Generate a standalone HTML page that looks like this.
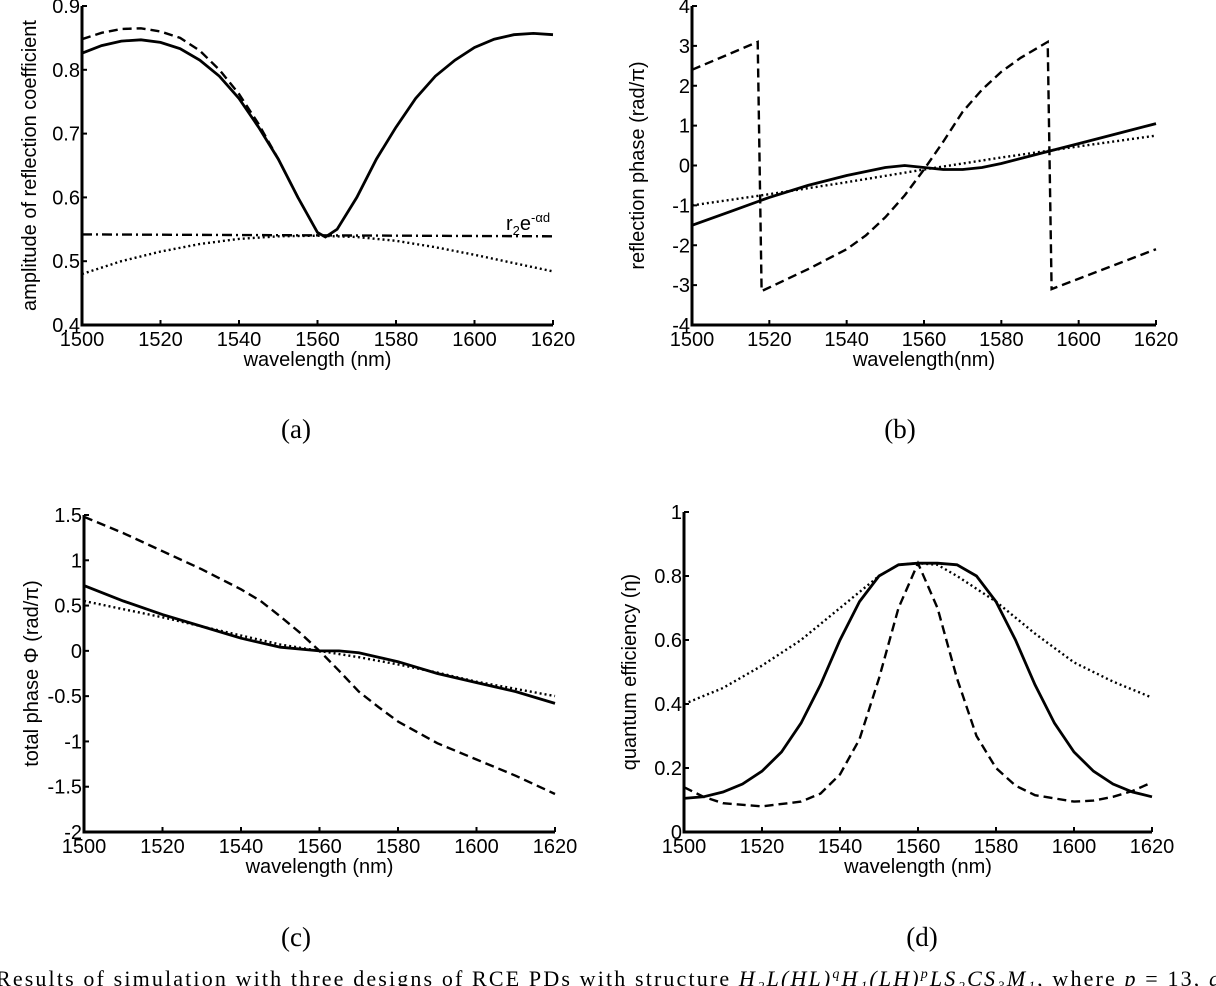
<!DOCTYPE html>
<html><head><meta charset="utf-8"><style>
body{margin:0;background:#fff;width:1216px;height:986px;overflow:hidden;position:relative}
svg{position:absolute;left:0;top:0}
text{font-family:"Liberation Sans",sans-serif;fill:#000}
.cap{font-family:"Liberation Serif",serif}
</style></head><body>
<svg id="chart" width="1216" height="986">
<text class="cap" x="296" y="438" font-size="27" text-anchor="middle">(a)</text>
<text class="cap" x="900" y="438" font-size="27" text-anchor="middle">(b)</text>
<text class="cap" x="296" y="946" font-size="27" text-anchor="middle">(c)</text>
<text class="cap" x="922" y="946" font-size="27" text-anchor="middle">(d)</text>
<text class="cap" x="-4" y="986" font-size="22" textLength="1224" lengthAdjust="spacing">Results of simulation with three designs of RCE PDs with structure <tspan font-style="italic">H₂L(HL)<tspan dy="-8" font-size="14">q</tspan><tspan dy="8">H₁(LH)</tspan><tspan dy="-8" font-size="14">p</tspan><tspan dy="8">LS₂CS₃M₁</tspan></tspan>, where <tspan font-style="italic">p</tspan> = 13, <tspan font-style="italic">q</tspan></text>
</svg>
<script>
const xTicks=[1500,1520,1540,1560,1580,1600,1620];
// Panel a
const aX=[1500,1505,1510,1515,1520,1525,1530,1535,1540,1545,1550,1555,1560,1562,1565,1570,1575,1580,1585,1590,1595,1600,1605,1610,1615,1620];
const aSolid=[0.826,0.838,0.845,0.847,0.843,0.833,0.815,0.79,0.755,0.71,0.66,0.6,0.545,0.538,0.55,0.6,0.66,0.71,0.755,0.79,0.815,0.835,0.848,0.855,0.857,0.855];
const aDashX=[1500,1505,1510,1515,1520,1525,1530,1535,1540,1545,1550,1555,1560,1562];
const aDash=[0.848,0.858,0.864,0.865,0.86,0.85,0.83,0.8,0.762,0.715,0.66,0.6,0.545,0.538];
const aDotX=[1500,1510,1520,1530,1540,1550,1560,1570,1580,1590,1600,1610,1620];
const aDot=[0.48,0.5,0.515,0.527,0.535,0.539,0.54,0.538,0.532,0.522,0.51,0.497,0.484];
const aDDX=[1500,1620];
const aDD=[0.542,0.539];
const aYT=[0.4,0.5,0.6,0.7,0.8,0.9];
const aYL=["0.4","0.5","0.6","0.7","0.8","0.9"];
// Panel b
const bSolX=[1500,1510,1520,1530,1540,1550,1555,1560,1565,1570,1575,1580,1590,1600,1610,1620];
const bSol=[-1.5,-1.15,-0.8,-0.5,-0.25,-0.05,0,-0.05,-0.1,-0.1,-0.05,0.05,0.3,0.55,0.8,1.05];
const bDotX=[1500,1520,1540,1560,1580,1600,1620];
const bDot=[-1.0,-0.72,-0.42,-0.1,0.2,0.48,0.75];
const bDashX=[1500,1517,1518,1530,1540,1545,1550,1555,1560,1565,1570,1575,1580,1585,1592,1593,1620];
const bDash=[2.4,3.1,-3.15,-2.6,-2.1,-1.75,-1.3,-0.75,-0.1,0.6,1.35,1.9,2.35,2.7,3.1,-3.1,-2.1];
const bYT=[-4,-3,-2,-1,0,1,2,3,4];
const bYL=["-4","-3","-2","-1","0","1","2","3","4"];
// Panel c
const cX=[1500,1510,1520,1530,1540,1545,1550,1555,1560,1565,1570,1575,1580,1590,1600,1610,1620];
const cDash=[1.48,1.3,1.1,0.9,0.68,0.55,0.38,0.2,0.0,-0.22,-0.45,-0.62,-0.78,-1.02,-1.2,-1.38,-1.58];
const cSolX=[1500,1510,1520,1530,1540,1550,1560,1565,1570,1580,1590,1600,1610,1620];
const cSol=[0.72,0.55,0.4,0.27,0.14,0.04,0,0,-0.02,-0.12,-0.25,-0.35,-0.45,-0.58];
const cDotX=[1500,1510,1520,1530,1540,1550,1560,1570,1580,1590,1600,1610,1620];
const cDot=[0.55,0.46,0.37,0.27,0.17,0.07,0,-0.07,-0.15,-0.24,-0.34,-0.42,-0.5];
const cYT=[-2,-1.5,-1,-0.5,0,0.5,1,1.5];
const cYL=["-2","-1.5","-1","-0.5","0","0.5","1","1.5"];
// Panel d
const dX=[1500,1505,1510,1515,1520,1525,1530,1535,1540,1545,1550,1555,1560,1565,1570,1575,1580,1585,1590,1595,1600,1605,1610,1615,1620];
const dSol=[0.105,0.11,0.125,0.15,0.19,0.25,0.34,0.46,0.6,0.72,0.8,0.835,0.84,0.84,0.835,0.8,0.72,0.6,0.46,0.34,0.25,0.19,0.15,0.125,0.11];
const dDashX=[1500,1505,1510,1520,1530,1535,1540,1545,1550,1555,1560,1565,1570,1575,1580,1585,1590,1600,1605,1610,1615,1620];
const dDash=[0.14,0.11,0.09,0.08,0.095,0.12,0.18,0.29,0.48,0.7,0.84,0.7,0.48,0.3,0.2,0.145,0.115,0.095,0.098,0.11,0.128,0.155];
const dDotX=[1500,1510,1520,1530,1540,1550,1555,1560,1565,1570,1580,1590,1600,1610,1620];
const dDot=[0.4,0.45,0.52,0.6,0.7,0.8,0.835,0.84,0.835,0.8,0.72,0.62,0.53,0.47,0.42];
const dYT=[0,0.2,0.4,0.6,0.8,1];
const dYL=["0","0.2","0.4","0.6","0.8","1"];

const NS="http://www.w3.org/2000/svg";
const svg=document.getElementById('chart');
function mk(tag,attrs,parent){const e=document.createElementNS(NS,tag);for(const k in attrs)e.setAttribute(k,attrs[k]);(parent||svg).appendChild(e);return e;}
const styles={solid:"",dash:"9,5",dot:"2,3",dashdot:"10,4,2,4"};
function panel(id,L,R,T,B,ymin,ymax,yt,yl,ytitle,xtitle,series){
  const g=mk('g',{});
  
  
  const sx=v=>L+(v-1500)/(120)*(R-L);
  const sy=v=>B-(v-ymin)/(ymax-ymin)*(B-T);
  series.forEach(s=>{
    const pts=s.x.map((xv,i)=>sx(xv).toFixed(1)+','+sy(s.y[i]).toFixed(1)).join(' ');
    const p=mk('polyline',{points:pts,fill:'none',stroke:'#000','stroke-width':s.style==='solid'?2.8:2.4,'stroke-dasharray':styles[s.style]},g);
    
    
  });
  const ax=mk('path',{d:`M${L},${T} L${L},${B} L${R},${B}`,fill:'none',stroke:'#000','stroke-width':3},g);
  
  
  xTicks.forEach(v=>{
    mk('line',{x1:sx(v),x2:sx(v),y1:B,y2:B-5,stroke:'#000','stroke-width':2},g);
    const t=mk('text',{x:sx(v),y:B+21,'font-size':20,'text-anchor':'middle'},g);
    t.textContent=v;
    
    
  });
  yt.forEach((v,i)=>{
    mk('line',{x1:L,x2:L+5,y1:sy(v),y2:sy(v),stroke:'#000','stroke-width':2},g);
    const t=mk('text',{x:L-2,y:sy(v)+7,'font-size':20,'text-anchor':'end'},g);
    t.textContent=yl[i];
    
    
  });
  const xt=mk('text',{x:(L+R)/2,y:B+41,'font-size':20,'text-anchor':'middle'},g);
  xt.textContent=xtitle;
  
  
  const yx=L-(id==='a'||id==='c'?46:48), ymid=(T+B)/2;
  const ytt=mk('text',{x:yx,y:ymid,'font-size':20,'text-anchor':'middle',transform:`rotate(-90 ${yx} ${ymid})`},g);
  ytt.textContent=ytitle;
  
  
  return {sx,sy};
}
panel('a',82,553,6,325,0.4,0.9,aYT,aYL,'amplitude of reflection coefficient','wavelength (nm)',[
 {name:'dashed-series',x:aDashX,y:aDash,style:'dash'},
 {name:'solid-series',x:aX,y:aSolid,style:'solid'},
 {name:'dotted-series',x:aDotX,y:aDot,style:'dot'},
 {name:'dashdot-series',x:aDDX,y:aDD,style:'dashdot'}]);
const lab=mk('text',{x:506,y:230,'font-size':20});


lab.innerHTML='r<tspan dy="5" font-size="13">2</tspan><tspan dy="-5">e</tspan><tspan dy="-8" font-size="13">-αd</tspan>';
panel('b',692,1156,6,325,-4,4,bYT,bYL,'reflection phase (rad/π)','wavelength(nm)',[
 {name:'dashed-series',x:bDashX,y:bDash,style:'dash'},
 {name:'solid-series',x:bSolX,y:bSol,style:'solid'},
 {name:'dotted-series',x:bDotX,y:bDot,style:'dot'}]);
panel('c',84,555,515,832,-2,1.5,cYT,cYL,'total phase Φ (rad/π)','wavelength (nm)',[
 {name:'dashed-series',x:cX,y:cDash,style:'dash'},
 {name:'solid-series',x:cSolX,y:cSol,style:'solid'},
 {name:'dotted-series',x:cDotX,y:cDot,style:'dot'}]);
panel('d',684,1152,512,832,0,1,dYT,dYL,'quantum efficiency (η)','wavelength (nm)',[
 {name:'dashed-series',x:dDashX,y:dDash,style:'dash'},
 {name:'solid-series',x:dX,y:dSol,style:'solid'},
 {name:'dotted-series',x:dDotX,y:dDot,style:'dot'}]);
</script>
</body></html>
